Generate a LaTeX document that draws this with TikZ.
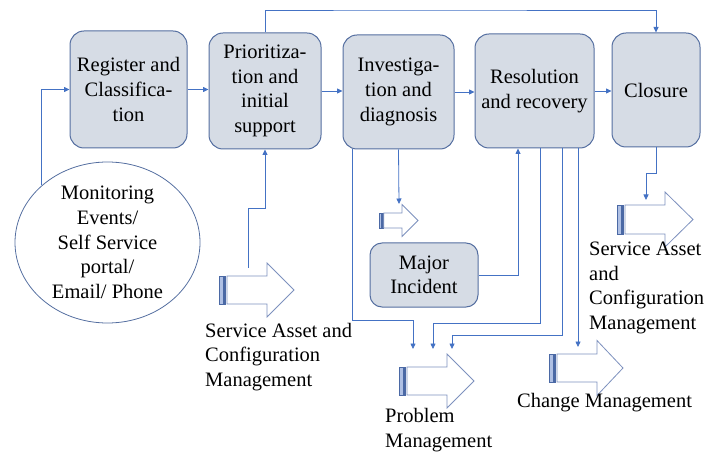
\documentclass[tikz,border=0pt]{standalone}
\usepackage{fontspec}
\setmainfont{Liberation Serif}
\usetikzlibrary{arrows.meta,shapes.geometric,calc}
\definecolor{boxfill}{HTML}{D6DCE5}
\definecolor{boxdraw}{RGB}{84,110,160}
\definecolor{conncol}{HTML}{4472C4}
\definecolor{hollowcol}{RGB}{125,145,190}
\definecolor{stripefill}{RGB}{175,192,228}
\definecolor{stripedraw}{RGB}{75,105,165}
\newcommand\myStripedArrow[8]{% name, x0, yc, bodyhalf, headhalf, headstart, tip, stripe unit
  \filldraw[fill=stripefill,draw=stripedraw,line width=0.5pt]
    ({#2},{#3-#4}) rectangle ({#2+4*#8},{#3+#4});
  \draw[stripedraw,line width=0.5pt] ({#2+5.5*#8},{#3-#4}) rectangle ({#2+6.5*#8},{#3+#4});
  \draw[hollowcol,line width=0.8pt,fill=white]
    ({#2+8*#8},{#3-#4}) -- ({#6},{#3-#4}) -- ({#6},{#3-#5}) -- ({#7},{#3})
    -- ({#6},{#3+#5}) -- ({#6},{#3+#4}) -- ({#2+8*#8},{#3+#4}) -- cycle;
  \coordinate (#1) at ({#7},{#3});
}
\begin{document}
\begin{tikzpicture}[x=1pt,y=-1pt,
  every node/.style={font=\fontsize{20.5}{24.6}\selectfont},
  procbox/.style={draw=boxdraw,fill=boxfill,line width=1pt,rounded corners=14pt,
     align=center,inner sep=0pt},
  conn/.style={draw=conncol,line width=0.8pt,-{Triangle[length=5.5pt,width=5pt]}},
  plain/.style={draw=conncol,line width=0.8pt},
  label/.style={align=left,inner sep=0pt,anchor=west}]
\useasboundingbox (0,0) rectangle (717,454);
% process boxes
\node[procbox,minimum width=117pt,minimum height=117pt] (b1) at (128.5,89.5) {Register and\\Classifica-\\tion};
\node[procbox,minimum width=112pt,minimum height=116pt] (b2) at (265,91) {Prioritiza-\\tion and\\initial\\support};
\node[procbox,minimum width=111pt,minimum height=114pt] (b3) at (398.5,92) {Investiga-\\tion and\\diagnosis};
\node[procbox,minimum width=119pt,minimum height=114pt] (b4) at (534.5,91) {Resolution\\and recovery};
\node[procbox,minimum width=88pt,minimum height=114pt] (b5) at (656,90) {Closure};
\node[procbox,minimum width=108pt,minimum height=64pt,rounded corners=12pt] (mi) at (424,275) {Major\\Incident};
% ellipse
\node[ellipse,draw=boxdraw,line width=0.8pt,minimum width=185pt,minimum height=161pt,
  align=center,inner sep=0pt] (ell) at (107.5,242.5) {Monitoring\\Events/\\Self Service\\portal/\\Email/ Phone};
% hollow striped arrows
\myStripedArrow{asl}{219}{290}{14}{27}{267}{294}{1}
\myStripedArrow{asm}{379}{220.5}{7.5}{16}{402}{418}{0.6}
\myStripedArrow{apm}{399}{381}{14}{27}{447}{474}{1}
\myStripedArrow{acm}{549}{368}{14}{27.5}{597}{623}{1}
\myStripedArrow{acl}{617}{219.5}{14.5}{27.5}{665}{693}{1}
% labels
\node[label] (tsl) at (205,357) {Service Asset and\\Configuration\\Management};
\node[label] (tpm) at (385,430) {Problem\\Management};
\node[label] (tcm) at (517,403) {Change Management};
\node[label] (tsr) at (589,288) {Service Asset\\and\\Configuration\\Management};
% coordinates
\coordinate (top) at (400,10);
\coordinate (sl0) at (248,268);
\coordinate (sl1) at (248,208);
\coordinate (ia) at (399,204);
\coordinate (p1) at (413,349);
\coordinate (p2) at (433,349);
\coordinate (p3) at (452,349);
\coordinate (c1) at (578,347);
\coordinate (cl) at (646,200);
\coordinate (r1) at (540,148);
\coordinate (r2) at (562,148);
\coordinate (r3) at (578,148);
\coordinate (i1) at (352,149);
% connectors
\draw[conn] (ell.north west) |- (b1.west);
\draw[conn] (b1.east) -- (b1.east -| b2.west);
\draw[conn] (b2.east) -- (b2.east -| b3.west);
\draw[conn] (b3.east) -- (b3.east -| b4.west);
\draw[conn] (b4.east) -- (b4.east -| b5.west);
\draw[conn] (b2.north) |- (top) -| (b5.north);
\draw[conn] (sl0) -- (sl1) -| (b2.south);
\draw[conn] (b3.south) -- (ia);
\draw[conn] (i1) |- ($(p1)+(0,-29)$) -- (p1);
\draw[conn] (mi.east) -| (b4.south -| 518,0);
\draw[conn] (r1) |- ($(p2)+(0,-26)$) -- (p2);
\draw[conn] (r2) |- ($(p3)+(0,-14)$) -- (p3);
\draw[conn] (r3) -- (c1);
\draw[conn] (b5.south) |- ($(cl)+(0,-27)$) -- (cl);
\end{tikzpicture}
\end{document}
